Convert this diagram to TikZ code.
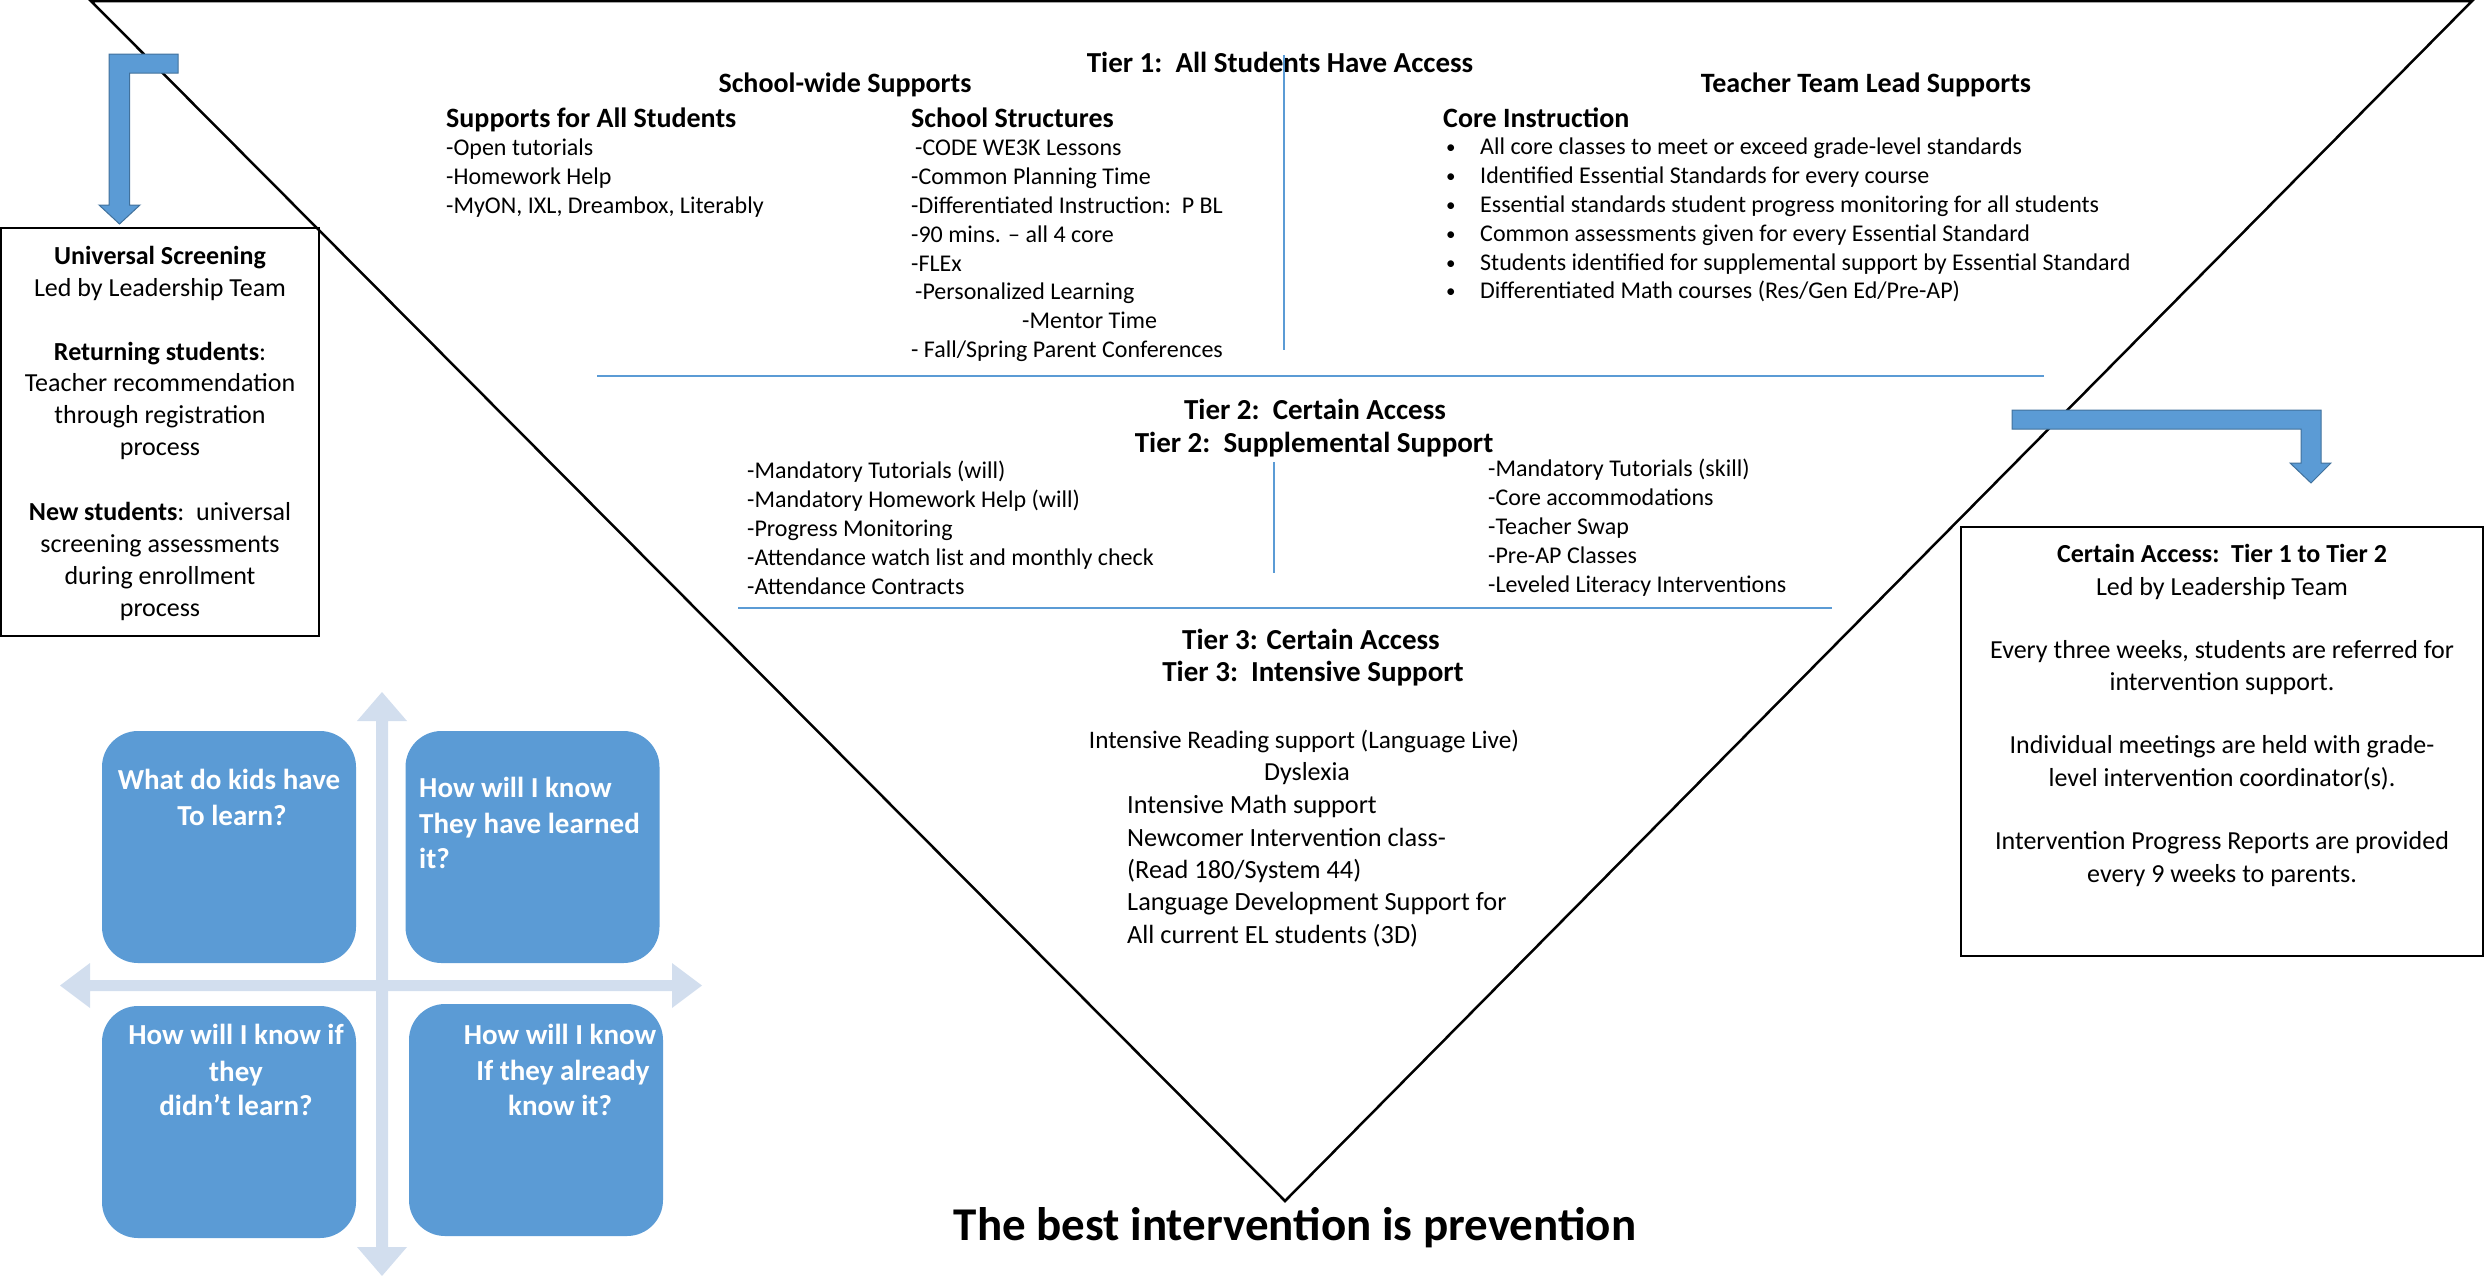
\documentclass[tikz,border=0pt]{standalone}
\usepackage{fontspec}
\setmainfont{Carlito}
\definecolor{qblue}{RGB}{91,155,213}
\definecolor{qedge}{RGB}{65,113,156}
\definecolor{qlight}{RGB}{210,222,238}
\begin{document}
\begin{tikzpicture}[x=1pt,y=-1pt,
  tx/.style={inner sep=0pt, font=\fontsize{24}{29}\selectfont, anchor=base west},
  txc/.style={inner sep=0pt, font=\fontsize{24}{29}\selectfont, anchor=base},
  tx3/.style={inner sep=0pt, font=\fontsize{26.3}{32}\selectfont, anchor=base west},
  hd/.style={inner sep=0pt, font=\fontsize{28}{34}\selectfont\bfseries, anchor=base},
  hdw/.style={inner sep=0pt, font=\fontsize{28}{34}\selectfont\bfseries, anchor=base west},
  tier/.style={inner sep=0pt, font=\fontsize{29}{35}\selectfont\bfseries, anchor=base},
  bx/.style={inner sep=0pt, font=\fontsize{26}{32}\selectfont, anchor=base},
  qt/.style={inner sep=0pt, font=\fontsize{29}{36}\selectfont\bfseries, text=white, anchor=base},
  qtw/.style={inner sep=0pt, font=\fontsize{29}{36}\selectfont\bfseries, text=white, anchor=base west},
  qbox/.style={fill=qblue, draw=none, rounded corners=36pt, minimum width=254pt, minimum height=232pt, inner sep=0pt},
  sep/.style={draw=qblue, line width=1.5pt},
  frame/.style={draw=black, line width=2pt, inner sep=0pt},
  blockarrow/.style={fill=qblue, draw=qedge, line width=1pt}
]
\useasboundingbox (0,0) rectangle (2484,1275);

% ---------- inverted triangle ----------
\draw[line width=2.5pt] (91,1) -- (2472,1) -- (1285,1201) -- cycle;

% ---------- separators ----------
\coordinate (v1a) at (1284,55);  \coordinate (v1b) at (1284,350);
\coordinate (h1a) at (597,376);  \coordinate (h1b) at (2044,376);
\coordinate (v2a) at (1274,462); \coordinate (v2b) at (1274,573);
\coordinate (h2a) at (738,608);  \coordinate (h2b) at (1832,608);
\draw[sep] (v1a) -- (v1b);
\draw[sep] (h1a) -- (h1b);
\draw[sep] (v2a) -- (v2b);
\draw[sep] (h2a) -- (h2b);

% ---------- Tier 1 ----------
\node[tier] (t1) at (1280,72) {Tier 1:\ \ All Students Have Access};
\node[hd] (sws) at (845,92) {School-wide Supports};
\node[hd] (ttl) at (1866,92) {Teacher Team Lead Supports};

\node[hdw] (sas) at (446,127) {Supports for All Students};
\foreach \t [count=\i] in {-Open tutorials, -Homework Help, {-MyON, IXL, Dreambox, Literably}}
  \node[tx] (sa\i) at (446,126+29*\i) {\t};

\node[hdw] (sst) at (911,127) {School Structures};
\node[tx] (ss1) at (915,155) {-CODE WE3K Lessons};
\node[tx] (ss2) at (911,184) {-Common Planning Time};
\node[tx] (ss3) at (911,213) {-Differentiated Instruction:\ \ P BL};
\node[tx] (ss4) at (911,242) {-90 mins. – all 4 core};
\node[tx] (ss5) at (911,271) {-FLEx};
\node[tx] (ss6) at (915,299) {-Personalized Learning};
\node[tx] (ss7) at (1022,328) {-Mentor Time};
\node[tx] (ss8) at (911,357) {- Fall/Spring Parent Conferences};

\node[hdw] (cin) at (1443,127) {Core Instruction};
\foreach \t [count=\i] in {All core classes to meet or exceed grade-level standards,
  Identified Essential Standards for every course,
  Essential standards student progress monitoring for all students,
  Common assessments given for every Essential Standard,
  Students identified for supplemental support by Essential Standard,
  Differentiated Math courses (Res/Gen Ed/Pre-AP)}
{
  \node[inner sep=0pt, font=\fontsize{19}{24}\selectfont, anchor=base west] (cb\i) at (1446,125+28.8*\i) {\textbullet};
  \node[tx] (ci\i) at (1480,126+28.8*\i) {\t};
}

% ---------- Tier 2 ----------
\node[tier] (t2a) at (1315,419) {Tier 2:\ \ Certain Access};
\node[tier] (t2b) at (1314,452) {Tier 2:\ \ Supplemental Support};
\foreach \t [count=\i] in {-Mandatory Tutorials (will), -Mandatory Homework Help (will),
  -Progress Monitoring, -Attendance watch list and monthly check, -Attendance Contracts}
  \node[tx] (tl\i) at (747,450+28.8*\i) {\t};
\foreach \t [count=\i] in {-Mandatory Tutorials (skill), -Core accommodations,
  -Teacher Swap, -Pre-AP Classes, -Leveled Literacy Interventions}
  \node[tx] (tr\i) at (1488,448+28.8*\i) {\t};

% ---------- Tier 3 ----------
\node[tier] (t3a) at (1311,649) {Tier 3: Certain Access};
\node[tier] (t3b) at (1313,681) {Tier 3:\ \ Intensive Support};
\node[inner sep=0pt, font=\fontsize{25.2}{32}\selectfont, anchor=base] (i1) at (1304,748) {Intensive Reading support (Language Live)};
\node[inner sep=0pt, font=\fontsize{26}{32}\selectfont, anchor=base] (i2) at (1307,780) {Dyslexia};
\foreach \t [count=\i] in {Intensive Math support, Newcomer Intervention class-,
  (Read 180/System 44), Language Development Support for, All current EL students (3D)}
  \node[tx3] (i3\i) at (1127,781.5+32.3*\i) {\t};

\node[inner sep=0pt, font=\fontsize{47}{56}\selectfont\bfseries, anchor=base] (best) at (1295,1240)
  {The best intervention is prevention};

% ---------- left box ----------
\node[frame, minimum width=318pt, minimum height=408pt] (us) at (160,432) {};
\node[bx] (u1) at (160,264) {\bfseries Universal Screening};
\node[bx] (u2) at (160,296) {Led by Leadership Team};
\node[bx] (u3) at (160,360) {\textbf{Returning students}:};
\node[bx] (u4) at (160,391) {Teacher recommendation};
\node[bx] (u5) at (160,423) {through registration};
\node[bx] (u6) at (160,455) {process};
\node[bx] (u7) at (160,520) {\textbf{New students}:\ \ universal};
\node[bx] (u8) at (160,552) {screening assessments};
\node[bx] (u9) at (160,584) {during enrollment};
\node[bx] (u10) at (160,616) {process};

% left bent arrow
\fill[blockarrow] (178,54) -- (109,54) -- (109,205) -- (99,205) -- (119.5,224)
  -- (140,205) -- (129.5,205) -- (129.5,73) -- (178,73) -- cycle;

% ---------- right box ----------
\node[frame, minimum width=522pt, minimum height=429pt] (ca) at (2222,741.5) {};
\node[bx] (c1) at (2222,562) {\bfseries Certain Access:\ \ Tier 1 to Tier 2};
\node[bx] (c2) at (2222,595) {Led by Leadership Team};
\node[bx] (c3) at (2222,658) {Every three weeks, students are referred for};
\node[bx] (c4) at (2222,690) {intervention support.};
\node[bx] (c5) at (2222,753) {Individual meetings are held with grade-};
\node[bx] (c6) at (2222,786) {level intervention coordinator(s).};
\node[bx] (c7) at (2222,849) {Intervention Progress Reports are provided};
\node[bx] (c8) at (2222,882) {every 9 weeks to parents.};

% right bent arrow
\fill[blockarrow] (2012,410) -- (2321,410) -- (2321,463) -- (2331,463) -- (2311,483)
  -- (2290,463) -- (2301,463) -- (2301,429) -- (2012,429) -- cycle;

% ---------- quadrant ----------
\fill[qlight] (382,692) -- (407,721) -- (388,721) -- (388,1247) -- (407,1247) -- (382,1276)
  -- (357,1247) -- (376,1247) -- (376,721) -- (357,721) -- cycle;
\fill[qlight] (60,985.5) -- (90,963) -- (90,980) -- (672,980) -- (672,963) -- (702,985.5)
  -- (672,1008) -- (672,991) -- (90,991) -- (90,1008) -- cycle;

\node[qbox] (q1) at (229,847) {};
\node[qbox] (q2) at (532.5,847) {};
\node[qbox] (q3) at (229,1122) {};
\node[qbox] (q4) at (536,1120) {};

\node[qt] (q1a) at (229,789) {What do kids have};
\node[qt] (q1b) at (232,825) {To learn?};
\node[qtw] (q2a) at (419,797) {How will I know};
\node[qtw] (q2b) at (419,833) {They have learned};
\node[qtw] (q2c) at (419,868) {it?};
\node[qt] (q3a) at (236,1044) {How will I know if};
\node[qt] (q3b) at (236,1081) {they};
\node[qt] (q3c) at (236,1115) {didn’t learn?};
\node[qt] (q4a) at (560,1044) {How will I know};
\node[qt] (q4b) at (563,1080) {If they already};
\node[qt] (q4c) at (560,1115) {know it?};
\end{tikzpicture}
\end{document}
